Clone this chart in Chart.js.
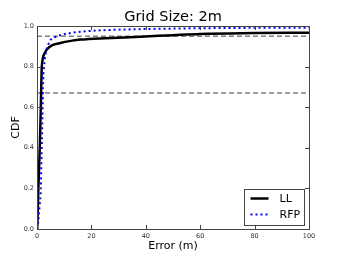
<!DOCTYPE html>
<html>
<head>
<meta charset="utf-8">
<script src="https://cdn.jsdelivr.net/npm/chart.js@4/dist/chart.umd.min.js"></script>
<style>
  html, body { margin: 0; padding: 0; background: #fff; }
  #wrap { width: 338px; height: 263px; }
</style>
</head>
<body>
<div id="wrap"><canvas id="myChart" width="338" height="263"></canvas></div>
<script>
// values
const errLL = [0, 0.1, 0.5, 1.0, 1.4, 1.7, 2.0, 2.8, 4.7, 8.3, 13, 16, 25, 38, 50, 60, 80, 100];
const cdfLL = [0, 0.01, 0.2, 0.39, 0.6, 0.78, 0.83, 0.866, 0.898, 0.915, 0.928, 0.933, 0.94, 0.947, 0.955, 0.961, 0.965, 0.967];

const errRFP = [0, 0.3, 1.0, 1.4, 1.7, 2.0, 2.2, 2.6, 3.2, 4.1, 4.8, 7, 10, 15, 20, 30, 40, 60, 80, 100];
const cdfRFP = [0, 0.02, 0.12, 0.2, 0.38, 0.55, 0.7, 0.8, 0.866, 0.906, 0.928, 0.947, 0.96, 0.97, 0.976, 0.982, 0.985, 0.989, 0.991, 0.992];

const refLevels = [0.95, 0.67];
const xRange = [0, 100];
const xTicks = [0, 20, 40, 60, 80, 100];
const yTicks = [0.0, 0.2, 0.4, 0.6, 0.8, 1.0];

const pts = (xs, ys) => xs.map((x, i) => ({ x: x, y: ys[i] }));

const datasets = [
  {
    label: 'LL',
    data: pts(errLL, cdfLL),
    borderColor: '#000',
    borderWidth: 2.5,
    pointRadius: 0,
    cubicInterpolationMode: 'monotone',
    order: 1
  },
  {
    label: 'RFP',
    data: pts(errRFP, cdfRFP),
    borderColor: '#0000ff',
    borderWidth: 2,
    borderDash: [2, 3],
    pointRadius: 0,
    cubicInterpolationMode: 'monotone',
    order: 0
  }
];
refLevels.forEach(v => {
  datasets.push({
    data: [{ x: xRange[0], y: v }, { x: xRange[1], y: v }],
    borderColor: 'rgba(0,0,0,0.75)',
    borderWidth: 1,
    borderDash: [5, 3],
    pointRadius: 0,
    order: 2
  });
});

// matplotlib-like frame with inward ticks on all sides
const framePlugin = {
  id: 'frame',
  afterDatasetsDraw(chart) {
    const { ctx, chartArea: a, scales } = chart;
    ctx.save();
    ctx.strokeStyle = '#444';
    ctx.lineWidth = 1;
    ctx.strokeRect(Math.round(a.left) + 0.5, Math.round(a.top) + 0.5,
      Math.round(a.right - a.left), Math.round(a.bottom - a.top));
    ctx.beginPath();
    yTicks.forEach(v => {
      const y = Math.round(scales.y.getPixelForValue(v)) + 0.5;
      ctx.moveTo(a.left, y); ctx.lineTo(a.left + 4, y);
      ctx.moveTo(a.right, y); ctx.lineTo(a.right - 4, y);
    });
    xTicks.forEach(v => {
      const x = Math.round(scales.x.getPixelForValue(v)) + 0.5;
      ctx.moveTo(x, a.bottom); ctx.lineTo(x, a.bottom - 4);
      ctx.moveTo(x, a.top); ctx.lineTo(x, a.top + 4);
    });
    ctx.stroke();
    ctx.restore();
  }
};

// legend box in the lower right corner of the plot
const legendPlugin = {
  id: 'boxLegend',
  afterDraw(chart) {
    const { ctx, chartArea: a } = chart;
    const items = chart.data.datasets.filter(d => d.label);
    const w = 60, h = 36;
    const x0 = Math.round(a.right - 5 - w) + 0.5;
    const y0 = Math.round(a.bottom - 4 - h) + 0.5;
    ctx.save();
    ctx.fillStyle = '#fff';
    ctx.fillRect(x0, y0, w, h);
    ctx.strokeStyle = '#444';
    ctx.lineWidth = 1;
    ctx.strokeRect(x0, y0, w, h);
    ctx.font = '11px "DejaVu Sans"';
    ctx.textBaseline = 'middle';
    items.forEach((d, i) => {
      const y = y0 + 9 + i * 16;
      ctx.strokeStyle = d.borderColor;
      ctx.lineWidth = d.borderWidth;
      ctx.setLineDash(d.borderDash || []);
      ctx.beginPath();
      ctx.moveTo(x0 + 6, y);
      ctx.lineTo(x0 + 24, y);
      ctx.stroke();
      ctx.setLineDash([]);
      ctx.fillStyle = '#000';
      ctx.fillText(d.label, x0 + 35, y + 0.5);
    });
    ctx.restore();
  }
};

new Chart(document.getElementById('myChart').getContext('2d'), {
  type: 'line',
  data: { datasets: datasets },
  options: {
    responsive: false,
    animation: false,
    layout: { padding: { top: 0, right: 29, bottom: 0, left: 0 } },
    plugins: {
      legend: { display: false },
      tooltip: { enabled: false }
    },
    scales: {
      x: {
        type: 'linear',
        min: xRange[0],
        max: xRange[1],
        grid: { display: false, drawTicks: false },
        border: { display: false },
        afterFit: s => { s.height = 34; },
        afterBuildTicks: s => { s.ticks = xTicks.map(v => ({ value: v })); },
        ticks: {
          color: '#333',
          padding: 3,
          maxRotation: 0,
          font: { family: 'DejaVu Sans', size: 6.5 }
        },
        title: {
          display: true,
          text: 'Error (m)',
          color: '#000',
          font: { family: 'DejaVu Sans', size: 11 },
          padding: { top: 0, bottom: 10 }
        }
      },
      // top axis only carries the plot title, centred over the plot area
      xTop: {
        type: 'linear',
        position: 'top',
        min: xRange[0],
        max: xRange[1],
        grid: { display: false, drawTicks: false },
        border: { display: false },
        ticks: { display: false },
        afterFit: s => { s.height = 26; },
        title: {
          display: true,
          text: 'Grid Size: 2m',
          color: '#000',
          font: { family: 'DejaVu Sans', size: 14.5 },
          padding: { top: 9, bottom: 0 }
        }
      },
      y: {
        type: 'linear',
        min: 0,
        max: 1,
        grid: { display: false, drawTicks: false },
        border: { display: false },
        afterFit: s => { s.width = 37; },
        afterBuildTicks: s => { s.ticks = yTicks.map(v => ({ value: v })); },
        ticks: {
          color: '#333',
          padding: 3,
          font: { family: 'DejaVu Sans', size: 6.5 },
          callback: v => v.toFixed(1)
        },
        title: {
          display: true,
          text: 'CDF',
          color: '#000',
          font: { family: 'DejaVu Sans', size: 11 },
          padding: { top: 10, bottom: 0 }
        }
      }
    }
  },
  plugins: [framePlugin, legendPlugin]
});
</script>
</body>
</html>
